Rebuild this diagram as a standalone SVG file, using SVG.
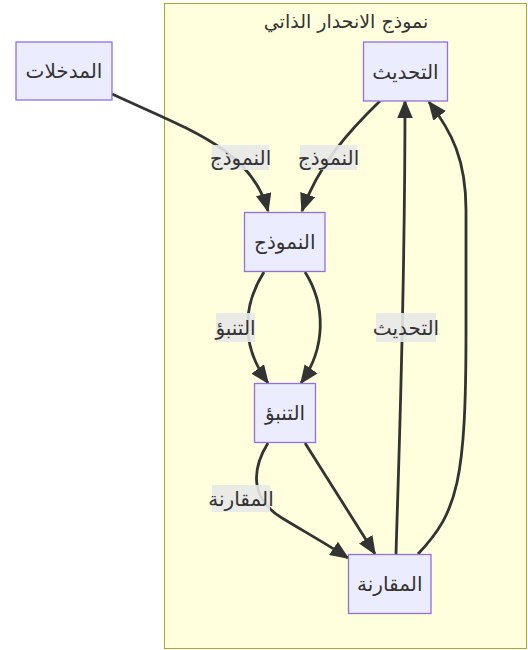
<svg xmlns="http://www.w3.org/2000/svg" width="528" height="650" viewBox="0 0 528 650">
<style>
.node rect{fill:#ECECFF;stroke:#9370DB;stroke-width:1.3}
text{font-family:"DejaVu Sans","Liberation Sans",sans-serif;font-size:20px;fill:#333;text-anchor:middle;dominant-baseline:central}
#cluster text{font-size:19px}
.edge{fill:none;stroke:#333;stroke-width:2.8}
.lbl rect{fill:#e8e8e8;opacity:0.9}
</style>
<defs>
<marker id="arr" markerUnits="userSpaceOnUse" viewBox="0 0 12 10" markerWidth="19" markerHeight="16" refX="11" refY="5" orient="auto">
<path d="M0,0 L12,5 L0,10 z" fill="#333"/>
</marker>
</defs>
<rect x="0" y="0" width="528" height="650" fill="#fff"/>
<g id="cluster">
<rect x="164.5" y="3.5" width="362" height="645" fill="#ffffde" stroke="#aaaa33" stroke-width="1"/>
<text x="346" y="21">نموذج الانحدار الذاتي</text>
</g>
<g id="connectors">
<path class="edge" d="M112,94 C190,130 252,150 268,211" marker-end="url(#arr)"/>
<path class="edge" d="M380,101 C350,130 318,165 302,211" marker-end="url(#arr)"/>
<path class="edge" d="M264,272 C243,305 240,345 268,383" marker-end="url(#arr)"/>
<path class="edge" d="M305,272 C326,305 326,348 301,383" marker-end="url(#arr)"/>
<path class="edge" d="M268,443 C250,472 252,500 282,518 C305,532 330,546 348,558" marker-end="url(#arr)"/>
<path class="edge" d="M305,443 L375,554" marker-end="url(#arr)"/>
<path class="edge" d="M396,554 C399,450 405,300 405,101" marker-end="url(#arr)"/>
<path class="edge" d="M418,554 C458,512 466,480 466,330 L466,210 C466,160 452,132 429,102" marker-end="url(#arr)"/>
</g>
<g id="edge-labels">
<g class="lbl"><rect x="212" y="145" width="57" height="25"/><text x="240.5" y="157.5">النموذج</text></g>
<g class="lbl"><rect x="300" y="145" width="57" height="25"/><text x="328.5" y="157.5">النموذج</text></g>
<g class="lbl"><rect x="216" y="313" width="39" height="29"/><text x="235.5" y="327.5">التنبؤ</text></g>
<g class="lbl"><rect x="212" y="485" width="58" height="27"/><text x="241" y="498.5">المقارنة</text></g>
<g class="lbl"><rect x="376" y="313" width="60" height="29"/><text x="406" y="327.5">التحديث</text></g>
</g>
<g id="n-inputs" class="node"><rect x="16" y="42" width="96" height="58"/><text x="64" y="71">المدخلات</text></g>
<g id="n-update" class="node"><rect x="363.5" y="42" width="84" height="59"/><text x="405.5" y="71.5">التحديث</text></g>
<g id="n-model" class="node"><rect x="244.5" y="212.5" width="80.5" height="59"/><text x="284.75" y="242">النموذج</text></g>
<g id="n-predict" class="node"><rect x="254.5" y="383.5" width="61" height="59"/><text x="285" y="413">التنبؤ</text></g>
<g id="n-compare" class="node"><rect x="348.5" y="554.5" width="82.5" height="59"/><text x="389.75" y="584">المقارنة</text></g>
</svg>
